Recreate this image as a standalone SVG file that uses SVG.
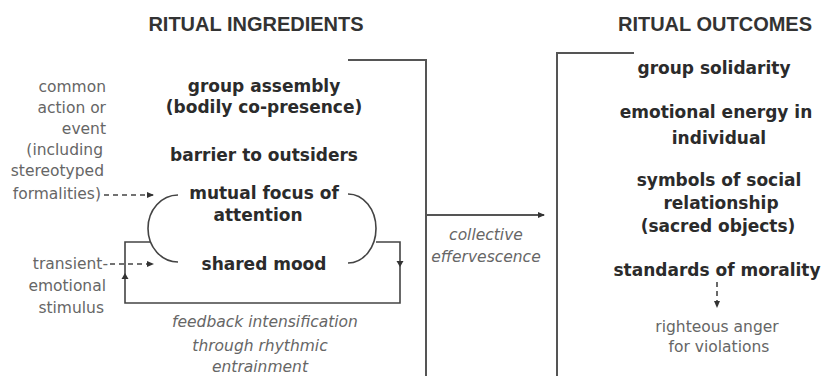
<svg xmlns="http://www.w3.org/2000/svg" width="824" height="376" viewBox="0 0 824 376">
<style>
.title{font-family:"Liberation Sans",Arial,sans-serif;font-weight:bold;font-size:20px;fill:#333;text-anchor:middle}
.main{font-family:"DejaVu Sans",sans-serif;font-weight:bold;font-size:17px;fill:#2b2b2b;text-anchor:middle}
.side{font-family:"DejaVu Sans",sans-serif;font-size:15.5px;fill:#666;text-anchor:end}
.note{font-family:"DejaVu Sans",sans-serif;font-size:15.5px;fill:#666;text-anchor:middle}
.ital{font-family:"DejaVu Sans",sans-serif;font-style:italic;font-size:15.5px;fill:#666;text-anchor:middle}
.line{fill:none;stroke:#555;stroke-width:2}
.thin{fill:none;stroke:#444;stroke-width:1.6}
.dash{fill:none;stroke:#444;stroke-width:1.6;stroke-dasharray:5 4}
</style>
<defs>
<marker id="ah" markerWidth="8" markerHeight="8" refX="6" refY="4" orient="auto" markerUnits="userSpaceOnUse">
<path d="M0,1 L7,4 L0,7 Z" fill="#333"/>
</marker>
</defs>

<g id="title-ingredients"><text class="title" x="256" y="31">RITUAL INGREDIENTS</text></g>
<g id="title-outcomes"><text class="title" x="715" y="31">RITUAL OUTCOMES</text></g>

<g id="group-assembly">
<text class="main" x="264" y="92">group assembly</text>
<text class="main" x="264" y="113">(bodily co-presence)</text>
</g>
<g id="barrier"><text class="main" x="264" y="161">barrier to outsiders</text></g>
<g id="mutual-focus">
<text class="main" x="264" y="199">mutual focus of</text>
<text class="main" x="258" y="221">attention</text>
</g>
<g id="shared-mood"><text class="main" x="264" y="270">shared mood</text></g>

<g id="common-action">
<text class="side" x="106" y="92">common</text>
<text class="side" x="106" y="113">action or</text>
<text class="side" x="106" y="134">event</text>
<text class="side" x="103" y="155">(including</text>
<text class="side" x="104" y="176">stereotyped</text>
<text class="side" x="101" y="199">formalities)</text>
</g>
<g id="transient">
<text class="side" x="108" y="269">transient-</text>
<text class="side" x="106" y="291">emotional</text>
<text class="side" x="104" y="313">stimulus</text>
</g>
<g id="feedback">
<text class="ital" x="265" y="327">feedback intensification</text>
<text class="ital" x="260" y="351">through rhythmic</text>
<text class="ital" x="260" y="372">entrainment</text>
</g>
<g id="collective">
<text class="ital" x="486" y="240">collective</text>
<text class="ital" x="486" y="262">effervescence</text>
</g>

<g id="group-solidarity"><text class="main" x="714" y="74">group solidarity</text></g>
<g id="emotional-energy">
<text class="main" x="716" y="118">emotional energy in</text>
<text class="main" x="719" y="144">individual</text>
</g>
<g id="symbols">
<text class="main" x="719" y="186">symbols of social</text>
<text class="main" x="721" y="209">relationship</text>
<text class="main" x="718" y="232">(sacred objects)</text>
</g>
<g id="standards"><text class="main" x="717" y="276">standards of morality</text></g>
<g id="righteous-anger">
<text class="note" x="717" y="332">righteous anger</text>
<text class="note" x="719" y="352">for violations</text>
</g>

<g id="connectors">
<path class="line" d="M348,60 H426 V376"/>
<path class="line" d="M634,53 H557 V376"/>
<path class="line" d="M426,215 H544" marker-end="url(#ah)"/>
<path class="thin" d="M178,195 A30,33.5 0 0,0 178,262"/>
<path class="thin" d="M348,194 A28,34.5 0 0,1 348,263"/>
<path class="thin" d="M376,242 H400 V303 H125 V242 H150"/>
<path d="M400,261 l-3.5,0 l3.5,6 l3.5,-6 Z" fill="#333"/>
<path d="M125,279 l-3.5,0 l3.5,-6 l3.5,6 Z" fill="#333"/>
<path class="dash" d="M104,195 H153" marker-end="url(#ah)"/>
<path class="dash" d="M110,264 H153" marker-end="url(#ah)"/>
<path class="dash" d="M717,282 V307" marker-end="url(#ah)"/>
</g>
</svg>
